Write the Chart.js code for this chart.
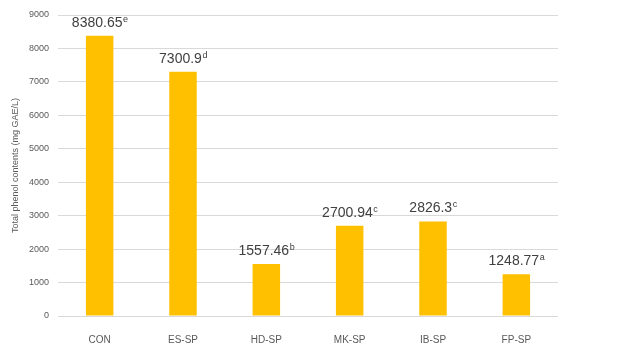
<!DOCTYPE html>
<html>
<head>
<meta charset="utf-8">
<script src="https://cdn.jsdelivr.net/npm/chart.js@4/dist/chart.umd.min.js"></script>
<style>
    html, body { margin: 0; padding: 0; background: #fff; }
    #wrap { width: 629px; height: 346px; }
</style>
</head>
<body>
<div id="wrap"><canvas id="myChart"></canvas></div>
<script>
const categories = ["CON", "ES-SP", "HD-SP", "MK-SP", "IB-SP", "FP-SP"];
const phenolValues = [8380.65, 7300.9, 1557.46, 2700.94, 2826.3, 1248.77];
const valueLabels = ["8380.65", "7300.9", "1557.46", "2700.94", "2826.3", "1248.77"];
const letters = ["e", "d", "b", "c", "c", "a"];
const yTicks = [0, 1000, 2000, 3000, 4000, 5000, 6000, 7000, 8000, 9000];

const fontFamily = "'Liberation Sans', Arial, sans-serif";

// value + superscript letter above each bar
const barLabels = {
    id: "barLabels",
    afterDatasetsDraw(chart) {
        const ctx = chart.ctx;
        const meta = chart.getDatasetMeta(0);
        ctx.save();
        ctx.fillStyle = "#404040";
        ctx.textBaseline = "alphabetic";
        meta.data.forEach((bar, i) => {
            ctx.font = "14px " + fontFamily;
            const mainW = ctx.measureText(valueLabels[i]).width;
            ctx.font = "9px " + fontFamily;
            const supW = ctx.measureText(letters[i]).width;
            const x0 = bar.x - (mainW + supW) / 2;
            const y0 = bar.y - 9;
            ctx.textAlign = "left";
            ctx.font = "14px " + fontFamily;
            ctx.fillText(valueLabels[i], x0, y0);
            ctx.font = "9px " + fontFamily;
            ctx.fillText(letters[i], x0 + mainW + 0.5, y0 - 5);
        });
        ctx.restore();
    },
};

const ctx = document.getElementById("myChart").getContext("2d");
const myChart = new Chart(ctx, {
    type: "bar",
    data: {
        labels: categories,
        datasets: [{
            data: phenolValues,
            backgroundColor: "#FFC000",
            borderWidth: 0,
            categoryPercentage: 1,
            barPercentage: 0.33,
        }],
    },
    options: {
        responsive: true,
        maintainAspectRatio: false,
        animation: false,
        layout: { padding: { top: 15, right: 71, left: 0, bottom: 0 } },
        plugins: {
            legend: { display: false },
            tooltip: { enabled: false },
        },
        scales: {
            x: {
                grid: { display: false },
                border: { display: false },
                ticks: {
                    color: "#595959",
                    font: { size: 10, family: fontFamily },
                    padding: 10,
                },
                afterFit(scale) { scale.height = 30; },
            },
            y: {
                min: 0,
                max: 9000,
                afterBuildTicks(scale) {
                    scale.ticks = yTicks.map((v) => ({ value: v }));
                },
                grid: { color: "#d9d9d9", drawTicks: false },
                border: { display: false },
                ticks: {
                    color: "#595959",
                    font: { size: 9, family: fontFamily },
                    padding: 9,
                    callback: (v) => String(v),
                },
                title: {
                    display: true,
                    text: "Total phenol contents (mg GAE/L)",
                    color: "#595959",
                    font: { size: 9, family: fontFamily },
                    padding: { top: 10, bottom: 0 },
                },
                afterFit(scale) { scale.width = 58; },
            },
        },
    },
    plugins: [barLabels],
});
</script>
</body>
</html>
